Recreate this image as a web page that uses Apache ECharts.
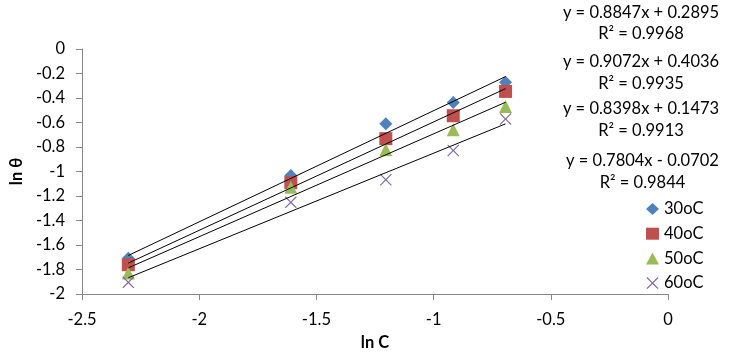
<!DOCTYPE html>
<html>
<head>
<meta charset="utf-8">
<script src="https://cdn.jsdelivr.net/npm/echarts@6/dist/echarts.min.js"></script>
<style>
html,body{margin:0;padding:0;background:#fff;}
#chart{width:745px;height:359px;}
</style>
</head>
<body>
<div id="chart"></div>
<script>
// ---- data ----
const lnC = [-2.3026, -1.6094, -1.2040, -0.9163, -0.6931];
const s30 = [-1.708, -1.033, -0.610, -0.436, -0.271];
const s40 = [-1.761, -1.091, -0.732, -0.545, -0.346];
const s50 = [-1.829, -1.128, -0.822, -0.659, -0.469];
const s60 = [-1.905, -1.252, -1.067, -0.828, -0.571];
const seriesNames = ['30oC', '40oC', '50oC', '60oC'];
const slopes = [0.8847, 0.9072, 0.8398, 0.7804];
const intercepts = [0.2895, 0.4036, 0.1473, -0.0702];
const r2Values = ['0.9968', '0.9935', '0.9913', '0.9844'];

// ---- styling ----
const FONT = 'Lato, "Liberation Sans", sans-serif';
const FS = 16.5;
const colors = ['#4F81BD', '#C0504D', '#9BBB59', '#8064A2'];
const xPath = 'path://M0,0.8L0.8,0L6,5.2L11.2,0L12,0.8L6.8,6L12,11.2L11.2,12L6,6.8L0.8,12L0,11.2L5.2,6Z';
const symbols = ['diamond', 'rect', 'triangle', xPath];
const symbolSizes = [13, 13, 13, 12];
const allSeries = [s30, s40, s50, s60];

const series = [];
allSeries.forEach((vals, i) => {
  series.push({
    name: seriesNames[i],
    type: 'scatter',
    symbol: symbols[i],
    symbolSize: symbolSizes[i],
    itemStyle: { color: colors[i], opacity: 1 },
    z: 2 + i,
    data: lnC.map((x, k) => [x, vals[k]])
  });
});
slopes.forEach((m, i) => {
  const b = intercepts[i];
  const x0 = lnC[0], x1 = lnC[lnC.length - 1];
  series.push({
    name: 'trend' + i,
    type: 'line',
    symbol: 'none',
    silent: true,
    lineStyle: { color: '#000', width: 1 },
    z: 10,
    data: [[x0, m * x0 + b], [x1, m * x1 + b]]
  });
});

const eqY = [12.7, 62, 109, 161];
const r2Y = [33.3, 84, 131, 182.7];
const eqX = [641, 641, 641, 642.5];
const graphics = [];
slopes.forEach((m, i) => {
  const b = intercepts[i];
  const eq = 'y = ' + m.toFixed(4) + 'x ' + (b >= 0 ? '+ ' : '- ') + Math.abs(b).toFixed(4);
  graphics.push({
    type: 'text', x: eqX[i], y: eqY[i],
    style: { text: eq, font: FS + 'px ' + FONT, fill: '#000', align: 'center', verticalAlign: 'middle' }
  });
  graphics.push({
    type: 'text', x: eqX[i], y: r2Y[i],
    style: { text: 'R² = ' + r2Values[i], font: FS + 'px ' + FONT, fill: '#000', align: 'center', verticalAlign: 'middle' }
  });
});

const chart = echarts.init(document.getElementById('chart'));
chart.setOption({
  animation: false,
  backgroundColor: '#fff',
  textStyle: { fontFamily: FONT },
  grid: { left: 78, right: 77, top: 49, bottom: 65, containLabel: false },
  xAxis: {
    type: 'value', min: -2.5, max: 0, interval: 0.5,
    name: 'ln C', nameLocation: 'middle', nameGap: 40,
    nameTextStyle: { fontSize: FS, fontWeight: 'bold', color: '#000', fontFamily: FONT },
    axisLine: { show: true, onZero: false, lineStyle: { color: '#868686', width: 1 } },
    axisTick: { show: true, length: 6, lineStyle: { color: '#868686' } },
    axisLabel: { fontSize: FS, color: '#000', margin: 17, fontFamily: FONT },
    splitLine: { show: false }
  },
  yAxis: {
    type: 'value', min: -2, max: 0, interval: 0.2,
    name: 'ln θ', nameLocation: 'middle', nameGap: 55,
    nameTextStyle: { fontSize: FS, fontWeight: 'bold', color: '#000', fontFamily: FONT },
    axisLine: { show: true, onZero: false, lineStyle: { color: '#868686', width: 1 } },
    axisTick: { show: true, length: 6, lineStyle: { color: '#868686' } },
    axisLabel: { fontSize: FS, color: '#000', margin: 17, fontFamily: FONT,
      formatter: v => String(Math.round(v * 10) / 10) },
    splitLine: { show: false }
  },
  legend: {
    data: seriesNames.map((n, i) => ({ name: n, icon: symbols[i] })),
    orient: 'vertical', left: 646, top: 200.5,
    itemWidth: 13, itemHeight: 12, itemGap: 7.7,
    textStyle: { fontSize: FS, color: '#000', fontFamily: FONT },
    padding: 0
  },
  graphic: graphics,
  series: series
});
</script>
</body>
</html>
